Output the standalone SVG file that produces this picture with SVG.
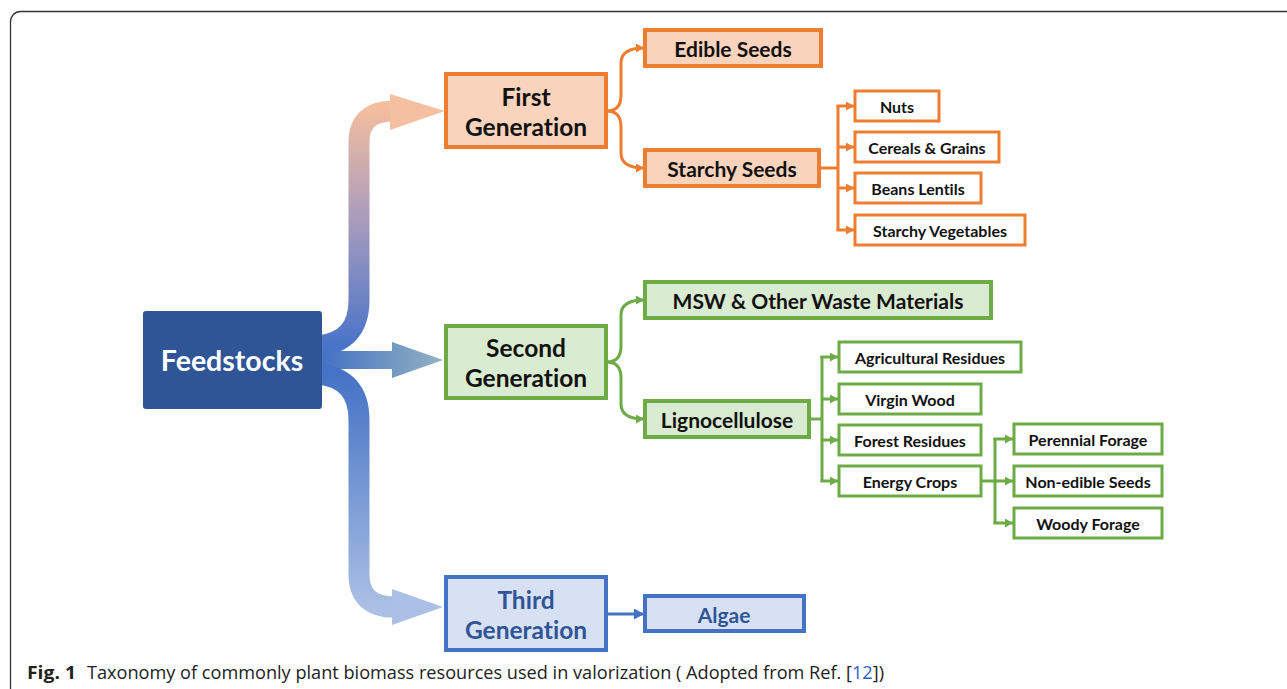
<svg xmlns="http://www.w3.org/2000/svg" width="1287" height="689" viewBox="0 0 1287 689">
<style>
  .t { font-family: Lato, "Open Sans", sans-serif; font-weight: bold; text-anchor: middle; dominant-baseline: central; font-variant-ligatures: none; font-feature-settings: "liga" 0, "clig" 0; }
  .big { font-size: 24.5px; }
  .mid { font-size: 21px; }
  .sm { font-size: 16px; }
  .o { stroke: #ED7D31; }
  .g { stroke: #6CAB45; }
  .b { stroke: #4472C4; }
  .of { fill: #F9D3BC; }
  .gf { fill: #D9EBD0; }
  .bf { fill: #D7E1F3; }
  .w { fill: #FFFFFF; }
  .thick { stroke-width: 4; }
  .thin { stroke-width: 3; }
  .c { fill: none; stroke-width: 3; }
  .cap { font-family: "Open Sans", "Noto Sans", sans-serif; font-size: 18px; fill: #222; }
</style>
<defs>
  <marker id="ao" markerUnits="userSpaceOnUse" markerWidth="9" markerHeight="9" refX="8" refY="4.5" orient="auto"><path d="M0,0 L8,4.5 L0,9 z" fill="#ED7D31"/></marker>
  <marker id="ag" markerUnits="userSpaceOnUse" markerWidth="9" markerHeight="9" refX="8" refY="4.5" orient="auto"><path d="M0,0 L8,4.5 L0,9 z" fill="#6CAB45"/></marker>
  <marker id="ab" markerUnits="userSpaceOnUse" markerWidth="11" markerHeight="11" refX="10" refY="5.5" orient="auto"><path d="M0,0 L10,5.5 L0,11 z" fill="#4472C4"/></marker>
  <linearGradient id="gTop" gradientUnits="userSpaceOnUse" x1="0" y1="105" x2="0" y2="345">
    <stop offset="0" stop-color="#F5BE9E"/>
    <stop offset="0.5" stop-color="#A59ABE"/>
    <stop offset="1" stop-color="#4A74C8"/>
  </linearGradient>
  <linearGradient id="gMid" gradientUnits="userSpaceOnUse" x1="322" y1="0" x2="443" y2="0">
    <stop offset="0" stop-color="#4472C4"/>
    <stop offset="1" stop-color="#93B2C2"/>
  </linearGradient>
  <linearGradient id="gBot" gradientUnits="userSpaceOnUse" x1="0" y1="372" x2="0" y2="610">
    <stop offset="0" stop-color="#4472C4"/>
    <stop offset="1" stop-color="#ABC0E4"/>
  </linearGradient>
</defs>

<rect x="10.5" y="11.5" width="1320" height="720" rx="10" fill="#FFFFFF" stroke="#333333" stroke-width="1.3"/>

<g id="connectors">
  <path d="M318 346 Q359 342 359 300 L359 142 Q359 111 394 111" fill="none" stroke="url(#gTop)" stroke-width="21"/>
  <polygon points="390,94 445,111 390,130" fill="#F5C0A1"/>
  <path d="M318 360 L394 360" fill="none" stroke="url(#gMid)" stroke-width="18"/>
  <polygon points="392,342 443,360 392,378" fill="url(#gMid)"/>
  <path d="M318 374 Q359 378 359 420 L359 574 Q359 607 394 607" fill="none" stroke="url(#gBot)" stroke-width="21"/>
  <polygon points="392,589 443,607 392,625" fill="#ABC0E4"/>

  <path class="c o" d="M607 111 Q621 111 621 95 L621 63 Q621 48 644 48" marker-end="url(#ao)"/>
  <path class="c o" d="M607 111 Q621 111 621 127 L621 153 Q621 168 644 168" marker-end="url(#ao)"/>
  <path class="c o" d="M820 168 L838 168 M838 105 L838 231"/>
  <path class="c o" d="M836.5 106 L854 106" marker-end="url(#ao)"/>
  <path class="c o" d="M838 147 L854 147" marker-end="url(#ao)"/>
  <path class="c o" d="M838 188 L854 188" marker-end="url(#ao)"/>
  <path class="c o" d="M836.5 230 L854 230" marker-end="url(#ao)"/>

  <path class="c g" d="M607 362 Q621 362 621 346 L621 315 Q621 300 644 300" marker-end="url(#ag)"/>
  <path class="c g" d="M607 362 Q621 362 621 378 L621 404 Q621 419 644 419" marker-end="url(#ag)"/>
  <path class="c g" d="M810 419 L822 419 M822 356 L822 482"/>
  <path class="c g" d="M820.5 357 L838 357" marker-end="url(#ag)"/>
  <path class="c g" d="M822 399 L838 399" marker-end="url(#ag)"/>
  <path class="c g" d="M822 440 L838 440" marker-end="url(#ag)"/>
  <path class="c g" d="M820.5 481 L838 481" marker-end="url(#ag)"/>
  <path class="c g" d="M982 481 L995 481 M995 438 L995 524"/>
  <path class="c g" d="M993.5 439 L1013 439" marker-end="url(#ag)"/>
  <path class="c g" d="M995 481 L1013 481" marker-end="url(#ag)"/>
  <path class="c g" d="M993.5 523 L1013 523" marker-end="url(#ag)"/>

  <path class="c b" d="M607 614 L644 614" marker-end="url(#ab)"/>
</g>

<g id="feedstocks">
  <rect x="143" y="311" width="179" height="98" rx="3" fill="#2F5597"/>
  <text class="t" x="232" y="360" font-size="28.5" fill="#FFFFFF">Feedstocks</text>
</g>

<g id="first-generation">
  <rect class="o of thick" x="446" y="74" width="160" height="73"/>
  <text class="t big" x="526" y="96" fill="#111">First</text>
  <text class="t big" x="526" y="126" fill="#111">Generation</text>
</g>
<g id="edible-seeds">
  <rect class="o of thick" x="645" y="30" width="176" height="36"/>
  <text class="t mid" x="733" y="48" fill="#111">Edible Seeds</text>
</g>
<g id="starchy-seeds">
  <rect class="o of thick" x="645" y="150" width="174" height="36"/>
  <text class="t mid" x="732" y="168" fill="#111">Starchy Seeds</text>
</g>
<g id="nuts">
  <rect class="o w thin" x="855" y="91" width="84" height="30"/>
  <text class="t sm" x="897" y="106" fill="#111">Nuts</text>
</g>
<g id="cereals-grains">
  <rect class="o w thin" x="855" y="132" width="144" height="30"/>
  <text class="t sm" x="927" y="147" fill="#111">Cereals &amp; Grains</text>
</g>
<g id="beans-lentils">
  <rect class="o w thin" x="855" y="173" width="126" height="30"/>
  <text class="t sm" x="918" y="188" fill="#111">Beans Lentils</text>
</g>
<g id="starchy-vegetables">
  <rect class="o w thin" x="855" y="215" width="170" height="30"/>
  <text class="t sm" x="940" y="230" fill="#111">Starchy Vegetables</text>
</g>

<g id="second-generation">
  <rect class="g gf thick" x="446" y="326" width="160" height="72"/>
  <text class="t big" x="526" y="347" fill="#111">Second</text>
  <text class="t big" x="526" y="377" fill="#111">Generation</text>
</g>
<g id="msw">
  <rect class="g gf thick" x="645" y="282" width="346" height="36"/>
  <text class="t mid" x="818" y="300" fill="#111">MSW &amp; Other Waste Materials</text>
</g>
<g id="lignocellulose">
  <rect class="g gf thick" x="645" y="401" width="164" height="36"/>
  <text class="t mid" x="727" y="419" fill="#111">Lignocellulose</text>
</g>
<g id="agricultural-residues">
  <rect class="g w thin" x="839" y="342" width="182" height="30"/>
  <text class="t sm" x="930" y="357" fill="#111">Agricultural Residues</text>
</g>
<g id="virgin-wood">
  <rect class="g w thin" x="839" y="384" width="142" height="30"/>
  <text class="t sm" x="910" y="399" fill="#111">Virgin Wood</text>
</g>
<g id="forest-residues">
  <rect class="g w thin" x="839" y="425" width="142" height="30"/>
  <text class="t sm" x="910" y="440" fill="#111">Forest Residues</text>
</g>
<g id="energy-crops">
  <rect class="g w thin" x="839" y="466" width="142" height="30"/>
  <text class="t sm" x="910" y="481" fill="#111">Energy Crops</text>
</g>
<g id="perennial-forage">
  <rect class="g w thin" x="1014" y="424" width="148" height="30"/>
  <text class="t sm" x="1088" y="439" fill="#111">Perennial Forage</text>
</g>
<g id="non-edible-seeds">
  <rect class="g w thin" x="1014" y="466" width="148" height="30"/>
  <text class="t sm" x="1088" y="481" fill="#111">Non-edible Seeds</text>
</g>
<g id="woody-forage">
  <rect class="g w thin" x="1014" y="508" width="148" height="30"/>
  <text class="t sm" x="1088" y="523" fill="#111">Woody Forage</text>
</g>

<g id="third-generation">
  <rect class="b bf thick" x="446" y="577" width="160" height="73"/>
  <text class="t big" x="526" y="599" fill="#2F5597">Third</text>
  <text class="t big" x="526" y="629" fill="#2F5597">Generation</text>
</g>
<g id="algae">
  <rect class="b bf thick" x="645" y="596" width="159" height="35"/>
  <text class="t mid" x="724" y="614" fill="#2F5597">Algae</text>
</g>

<g id="caption">
  <text class="cap" x="27" y="679" font-weight="bold" textLength="49" lengthAdjust="spacingAndGlyphs">Fig. 1</text>
  <text class="cap" x="87" y="679" textLength="797" lengthAdjust="spacingAndGlyphs">Taxonomy of commonly plant biomass resources used in valorization ( Adopted from Ref. [<tspan fill="#2B5BD6">12</tspan>])</text>
</g>
</svg>
